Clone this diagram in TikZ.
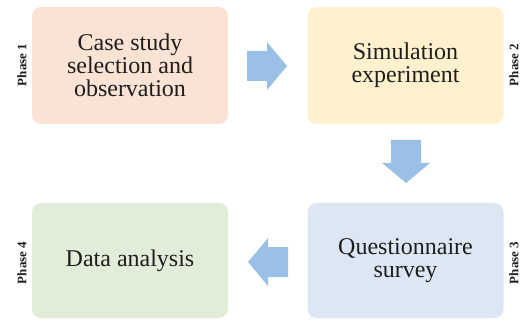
\documentclass[tikz,border=0pt]{standalone}
\usepackage{fontspec}
\setmainfont{Liberation Serif}
\definecolor{cPeach}{RGB}{250,226,212}
\definecolor{cYellow}{RGB}{255,241,206}
\definecolor{cBlue}{RGB}{221,231,243}
\definecolor{cGreen}{RGB}{225,237,217}
\definecolor{cArrow}{RGB}{155,192,229}
\definecolor{cText}{RGB}{30,30,30}
\begin{document}
\begin{tikzpicture}[x=1pt,y=-1pt,
  phasebox/.style={rounded corners=9pt, inner sep=0pt, minimum width=196pt,
    align=center, text=cText, font=\fontsize{24}{23}\selectfont},
  phaselabel/.style={rotate=90, font=\bfseries\fontsize{13}{14}\selectfont, text=cText, inner sep=0pt},
  flowarrow/.style={fill=cArrow}]
\useasboundingbox (0,0) rectangle (521,320);
\node[phasebox, fill=cPeach, minimum height=117pt] (b1) at (130,65.5) {Case study\\selection and\\observation};
\node[phasebox, fill=cYellow, minimum height=117pt] (b2) at (405.5,65.5) {Simulation\\experiment};
\node[phasebox, fill=cBlue, minimum height=115pt] (b3) at (405.5,260.5) {Questionnaire\\survey};
\node[phasebox, fill=cGreen, minimum height=115pt] (b4) at (130,260.5) {Data analysis};
\node[phaselabel] (p1) at (22,65) {Phase 1};
\node[phaselabel] (p2) at (514,65) {Phase 2};
\node[phaselabel] (p3) at (514,263) {Phase 3};
\node[phaselabel] (p4) at (22,263) {Phase 4};
% right arrow
\fill[flowarrow] (247,51) -- (267,51) -- (267,42) -- (287,66) -- (267,90) -- (267,81) -- (247,81) -- cycle;
% down arrow
\fill[flowarrow] (391,140) -- (421,140) -- (421,163) -- (430,163) -- (406,183) -- (382,163) -- (391,163) -- cycle;
% left arrow
\fill[flowarrow] (288,247) -- (268,247) -- (268,238) -- (248,262) -- (268,286) -- (268,277) -- (288,277) -- cycle;
\end{tikzpicture}
\end{document}
